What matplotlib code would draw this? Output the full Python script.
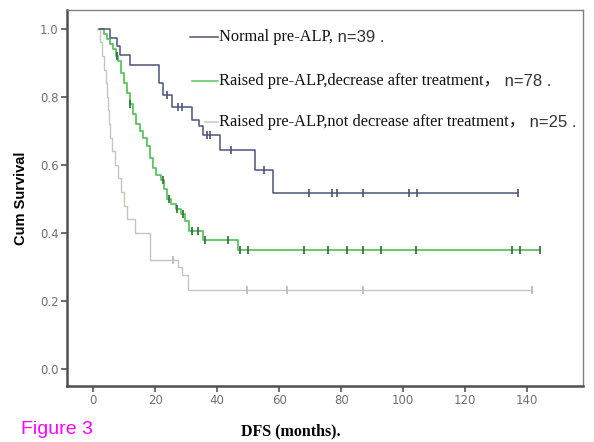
import numpy as np
import matplotlib
matplotlib.use("Agg")
import matplotlib.pyplot as plt

# Kaplan-Meier steps: time of each drop (months) and survival after it
normal_t = [2, 5.5, 7.7, 8.7, 12, 21.3, 22.7, 25.4, 31.8, 34.3, 35.5, 41, 52.3, 58]
normal_s = [1.0, 0.974, 0.949, 0.923, 0.893, 0.84, 0.806, 0.771, 0.732, 0.713, 0.688, 0.644, 0.585, 0.518]
normal_end = 137
normal_cens = [24, 27.4, 28.6, 36.7, 37.7, 44.5, 55, 69.7, 77, 78.7, 87, 102, 104.5, 137]

dec_t = [2.3, 3.5, 4.5, 5.5, 6.5, 7.4, 8.1, 9, 10, 11, 12, 13, 14, 15, 16, 17.4, 18.4,
         19.4, 20.3, 22, 23, 24, 25, 26.8, 28.4, 29.7, 31, 35.5, 46.8]
dec_s = [1.0, 0.985, 0.97, 0.955, 0.94, 0.92, 0.905, 0.87, 0.84, 0.81, 0.78, 0.75, 0.72,
         0.70, 0.68, 0.655, 0.62, 0.59, 0.57, 0.555, 0.53, 0.50, 0.485, 0.47, 0.455, 0.435,
         0.405, 0.378, 0.35]
dec_end = 144
dec_cens = [7.6, 12, 22.5, 24.5, 27, 29, 32, 34, 36.2, 43.5, 47.5, 50, 68, 75.8, 81.8,
            87, 93, 104, 135, 137.7, 144]

nodec_t = [1.3, 2.3, 3, 3.5, 4.2, 4.5, 4.8, 5.2, 5.5, 6.1, 7.1, 8, 9, 10, 11, 13.5, 18.4,
           27.4, 28.6, 30.6]
nodec_s = [1.0, 0.96, 0.92, 0.88, 0.84, 0.80, 0.76, 0.72, 0.68, 0.64, 0.60, 0.56, 0.52,
           0.48, 0.44, 0.40, 0.32, 0.30, 0.277, 0.232]
nodec_end = 141.5
nodec_cens = [25.8, 49.6, 62.6, 87, 141.5]

labels = ["Normal pre-ALP,", "Raised pre-ALP,decrease after treatment\uff0c",
          "Raised pre-ALP,not decrease after treatment\uff0c"]
counts = [" n=39 .", " n=78 .", " n=25 ."]

c_normal = '#4d5578'
c_dec = '#5cc45f'
c_dec_mark = '#2e6b3a'
c_nodec = '#c6c6be'

fig = plt.figure(figsize=(5.94, 4.42), dpi=100)
ax = fig.add_axes([0.1128, 0.1267, 0.8687, 0.8507])


def km(ax, t, s, end, cens, color, mcolor, lw):
    tt = np.r_[t, end]
    ss = np.r_[s, s[-1]]
    ax.step(tt, ss, where='post', color=color, lw=lw)
    idx = np.searchsorted(t, cens, side='right') - 1
    ax.plot(cens, np.array(s)[idx], ls='none', marker='|', ms=6, mew=1.2, color=mcolor)


km(ax, nodec_t, nodec_s, nodec_end, nodec_cens, c_nodec, '#b8b8b0', 1.0)
km(ax, dec_t, dec_s, dec_end, dec_cens, c_dec, c_dec_mark, 1.3)
km(ax, normal_t, normal_s, normal_end, normal_cens, c_normal, c_normal, 1.1)

ax.set_xlim(-8.4, 158)
ax.set_ylim(-0.05, 1.055)
ax.set_xticks(np.arange(0, 141, 20))
ax.set_yticks(np.arange(0, 1.01, 0.2))
ax.set_yticklabels(['0.0', '0.2', '0.4', '0.6', '0.8', '1.0'])
ax.tick_params(direction='out', length=4, width=1.2, color='#555555',
               labelsize=8.5, labelcolor='#707070', pad=2)
for side in ['left', 'bottom']:
    ax.spines[side].set_linewidth(1.8)
    ax.spines[side].set_color('#505050')
for side in ['top', 'right']:
    ax.spines[side].set_linewidth(1.0)
    ax.spines[side].set_color('#808080')

# legend written inside the plot
leg_y = [0.928, 0.811, 0.702]
leg_x0 = [0.238, 0.242, 0.267]
leg_col = [c_normal, c_dec, c_nodec]
for i in range(3):
    ax.plot([leg_x0[i], 0.293], [leg_y[i], leg_y[i]], transform=ax.transAxes,
            color=leg_col[i], lw=1.1, clip_on=False)
    t1 = ax.text(0.294, leg_y[i], labels[i], transform=ax.transAxes, va='center',
                 fontsize=11.8, family=['Liberation Serif', 'Noto Sans CJK SC'],
                 color='#111111', clip_on=False)
    ax.annotate(counts[i], xy=(1, 0), xycoords=t1, va='bottom', ha='left',
                fontsize=12, family='Liberation Sans', color='#333333',
                annotation_clip=False)

ax.set_ylabel("Cum Survival", fontsize=10.5, fontweight='bold', family='Liberation Sans',
              labelpad=9)
fig.text(0.49, 0.005, "DFS (months).", fontsize=11.5, fontweight='bold',
         family='Liberation Serif', ha='center', va='bottom')
fig.text(0.035, 0.01, "Figure 3", fontsize=14, color='#ff00ff',
         family='Liberation Sans', ha='left', va='bottom')

plt.savefig('out.png', dpi=100)
